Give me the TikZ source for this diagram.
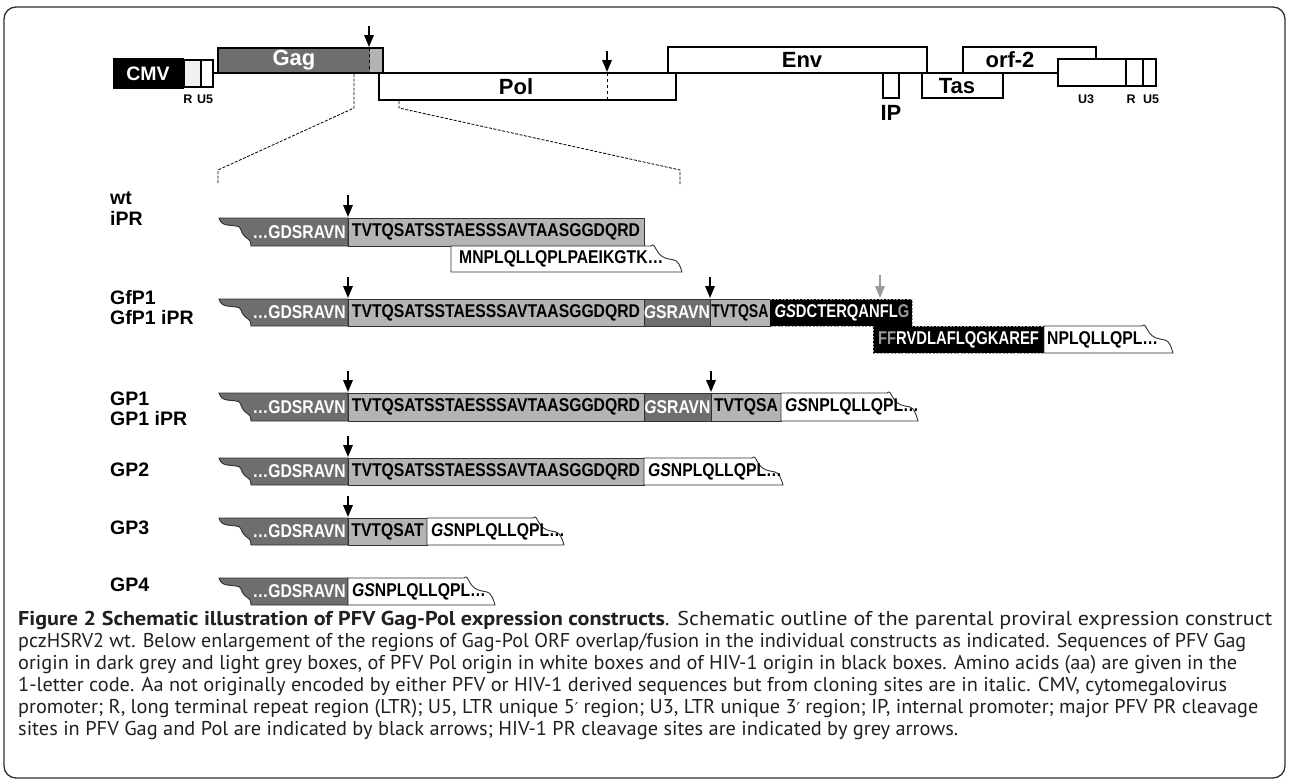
\documentclass[tikz,border=0pt]{standalone}
\usepackage{fontspec}
\usepackage{graphicx}
\setmainfont{Liberation Sans}
\newfontfamily\seqf{Liberation Sans}[FakeStretch=0.85]
\newfontfamily\seqg{Liberation Sans}[FakeStretch=0.80]
\newfontfamily\seqn{Liberation Sans}[FakeStretch=0.76]
\newfontfamily\capf{PT Sans}
\newfontfamily\dvf{DejaVu Sans}
\usetikzlibrary{arrows.meta}
\definecolor{dgrey}{HTML}{6E6E6E}
\definecolor{lgrey}{HTML}{B4B4B4}
\definecolor{hgrey}{HTML}{9A9A9A}
\definecolor{edge}{HTML}{303030}
\definecolor{rgrey}{HTML}{F0F0F0}
\definecolor{captxt}{HTML}{231F20}
\newcommand{\prm}{{\dvf\fontsize{15}{15}\selectfont ′}}
\newcommand{\capfit}[2]{\resizebox{#1pt}{\height}{#2}}
\tikzset{
  seq/.style={font=\seqf\bfseries\fontsize{18.5}{18.5}\selectfont, inner sep=0pt},
  seqg/.style={font=\seqg\bfseries\fontsize{18.5}{18.5}\selectfont, inner sep=0pt},
  seqn/.style={font=\seqn\bfseries\fontsize{18.5}{18.5}\selectfont, inner sep=0pt},
  rowlab/.style={font=\bfseries\fontsize{19.5}{20}\selectfont, anchor=west, inner sep=0pt},
  maplab/.style={font=\bfseries\fontsize{22}{22}\selectfont, inner sep=0pt},
  smalllab/.style={font=\bfseries\fontsize{12.5}{12.5}\selectfont, inner sep=0pt},
  cleave/.style={-{Triangle[width=9.5pt,length=12pt]}, line width=1.8pt},
  box/.style={draw=edge, line width=0.9pt},
  mapbox/.style={draw=black, line width=1.4pt},
  zoomline/.style={line width=0.8pt, dash pattern=on 3pt off 1.5pt},
  capline/.style={font=\capf\fontsize{20}{21}\selectfont, text=captxt, anchor=base west, inner sep=0pt}
}
% dark Gag bar with torn left edge: #1 top, #2 height
\newcommand{\gagbar}[2]{%
  \begin{scope}[shift={(219,#1)}]
  \draw[box, fill=dgrey] (0,0) -- (129,0) -- (129,#2) -- (32,#2)
    .. controls (31.5,#2-5) and (31,#2-6) .. (29,#2-7)
    .. controls (26,#2-9) and (23,#2-12) .. (22,#2-16)
    .. controls (21,9) and (20,8) .. (17,8) -- (8,7)
    .. controls (4,6.5) and (1,4) .. (0,0) -- cycle;
  \end{scope}}
% white Pol bar with torn right edge: #1 left x, #2 top, #3 width to torn start, #4 height
\newcommand{\polbar}[4]{%
  \begin{scope}[shift={(#1,#2)}]
  \draw[box, fill=white] (0,0) -- (#3,0)
    .. controls (#3+2,-2) and (#3+3,-1) .. (#3+5,3)
    .. controls (#3+8,9) and (#3+12,12) .. (#3+18,13) -- (#3+23,14)
    .. controls (#3+27,15) and (#3+29,#4-7) .. (#3+31,#4) -- (0,#4) -- cycle;
  \end{scope}}
\begin{document}
\begin{tikzpicture}[x=1pt,y=-1pt]
\useasboundingbox (0,0) rectangle (1290,782);
\draw[line width=1.3pt, draw=edge, rounded corners=12pt] (4,7) rectangle (1285,778);

% ---------------- genome map ----------------
\draw[line width=2.6pt] (213,73) -- (1058,73);
\fill[black] (113,58) rectangle (184,89);
\node[maplab, text=white, font=\bfseries\fontsize{19.5}{20}\selectfont] (cmv) at (148,73.5) {CMV};
\draw[mapbox, fill=rgrey] (184,60) rectangle (201,87);
\draw[mapbox, fill=white] (201,60) rectangle (213,87);
\node[smalllab] (r1) at (188,99) {R};
\node[smalllab] (u51) at (205,99) {U5};

\draw[mapbox, fill=dgrey] (218,48) rectangle (383,73);
\fill[lgrey] (369.5,48.7) rectangle (382.3,72);
\draw[dashed, line width=1pt] (369,48) -- (369,73);
\node[maplab, text=white] (gag) at (294,60.5) {Gag};
\coordinate (gagcut) at (369,47);
\coordinate (gagarr) at (369,26);
\draw[cleave] (gagarr) -- (gagcut);

\draw[mapbox, fill=white] (379,73) rectangle (676,100);
\node[maplab] (pol) at (516,86.5) {Pol};
\draw[dashed, line width=1pt] (607,73) -- (607,100);
\coordinate (polcut) at (607,72);
\coordinate (polarr) at (607,51);
\draw[cleave] (polarr) -- (polcut);

\draw[mapbox, fill=white] (668,47) rectangle (927,73);
\node[maplab] (env) at (802,60) {Env};
\draw[mapbox, fill=white] (883,73) rectangle (899,98);
\node[maplab] (ip) at (891,113) {IP};
\draw[mapbox, fill=white] (922,73) rectangle (1003,98);
\node[maplab] (tas) at (957,86) {Tas};
\draw[mapbox, fill=white] (963,47) rectangle (1096,73);
\node[maplab] (orf) at (1010,60) {orf-2};
\draw[mapbox, fill=white] (1058,59) rectangle (1126,86);
\draw[mapbox, fill=white] (1126,59) rectangle (1143,86);
\draw[mapbox, fill=white] (1143,59) rectangle (1156,86);
\node[smalllab] (u3) at (1086,99) {U3};
\node[smalllab] (r2) at (1131,99) {R};
\node[smalllab] (u52) at (1151,99) {U5};

% zoom lines
\draw[zoomline] (354,74) -- (354,108) -- (218,170) -- (218,184);
\draw[zoomline] (399,101) -- (399,108) -- (680,170) -- (680,184);

% ---------------- row labels ----------------
\node[rowlab] (lwt) at (110,198) {wt};
\node[rowlab] (lipr) at (110,218) {iPR};
\node[rowlab] (lgf) at (110,298) {GfP1};
\node[rowlab] (lgfi) at (110,318) {GfP1 iPR};
\node[rowlab] (lgp1) at (110,399) {GP1};
\node[rowlab] (lgp1i) at (110,419) {GP1 iPR};
\node[rowlab] (lgp2) at (110,470) {GP2};
\node[rowlab] (lgp3) at (110,528) {GP3};
\node[rowlab] (lgp4) at (110,585) {GP4};

% ---------------- wt / iPR ----------------
\gagbar{218}{28}
\draw[box, fill=lgrey] (348,218) rectangle (644,246);
\polbar{451}{246}{200}{26}
\node[seq, text=white, anchor=east] (wta) at (346,232) {…GDSRAVN};
\node[seq] (wtb) at (496,232) {TVTQSATSSTAESSSAVTAASGGDQRD};
\node[seq, anchor=west] (wtc) at (459,259) {MNPLQLLQPLPAEIKGTK…};
\coordinate (wtcut) at (348,217); \coordinate (wtarr) at (348,195);
\draw[cleave] (wtarr) -- (wtcut);

% ---------------- GfP1 ----------------
\gagbar{299}{27}
\draw[box, fill=lgrey] (348,299) rectangle (644,326);
\draw[box, fill=dgrey] (644,299) rectangle (710,326);
\draw[box, fill=lgrey] (710,299) rectangle (770,326);
\fill[black] (770,299) rectangle (912,326);
\fill[black] (873,326) rectangle (1044,353);
\draw[draw=hgrey, line width=0.8pt, dash pattern=on 2pt off 1.5pt]
  (770,299) -- (912,299) -- (912,326) -- (1044,326) -- (1044,353) -- (873,353) -- (873,326) -- (770,326);
\polbar{1044}{326}{98}{27}
\node[seq, text=white, anchor=east] (gfa) at (346,312.5) {…GDSRAVN};
\node[seq] (gfb) at (496,312.5) {TVTQSATSSTAESSSAVTAASGGDQRD};
\node[seq, text=white] (gfc) at (677,312.5) {\itshape G\upshape SRAVN};
\node[seqn] (gfd) at (740,312.5) {TVTQSA};
\node[seqg, text=white] (gfe) at (842,312.5) {\itshape GS\upshape DCTERQANFL\textcolor{hgrey}{G}};
\node[seqg, text=white] (gff) at (958.5,339.5) {\textcolor{hgrey}{FF}RVDLAFLQGKAREF};
\node[seq, anchor=west] (gfg) at (1047,339.5) {NPLQLLQPL…};
\coordinate (gfcut1) at (348,298); \coordinate (gfarr1) at (348,277);
\coordinate (gfcut2) at (710,298); \coordinate (gfarr2) at (710,277);
\coordinate (gfcut3) at (880,298); \coordinate (gfarr3) at (880,275);
\draw[cleave] (gfarr1) -- (gfcut1);
\draw[cleave] (gfarr2) -- (gfcut2);
\draw[cleave, draw=hgrey, fill=hgrey] (gfarr3) -- (gfcut3);

% ---------------- GP1 ----------------
\gagbar{393}{28}
\draw[box, fill=lgrey] (348,393) rectangle (644,421);
\draw[box, fill=dgrey] (644,393) rectangle (711,421);
\draw[box, fill=lgrey] (711,393) rectangle (781,421);
\polbar{781}{393}{106}{28}
\node[seq, text=white, anchor=east] (g1a) at (346,407) {…GDSRAVN};
\node[seq] (g1b) at (496,407) {TVTQSATSSTAESSSAVTAASGGDQRD};
\node[seq, text=white] (g1c) at (677.5,407) {\itshape G\upshape SRAVN};
\node[seq] (g1d) at (746,407) {TVTQSA};
\node[seq, anchor=west] (g1e) at (785,407) {\itshape GS\upshape NPLQLLQPL…};
\coordinate (g1cut1) at (348,392); \coordinate (g1arr1) at (348,371);
\coordinate (g1cut2) at (711,392); \coordinate (g1arr2) at (711,371);
\draw[cleave] (g1arr1) -- (g1cut1);
\draw[cleave] (g1arr2) -- (g1cut2);

% ---------------- GP2 ----------------
\gagbar{458}{27}
\draw[box, fill=lgrey] (348,458) rectangle (644,485);
\polbar{644}{458}{108}{27}
\node[seq, text=white, anchor=east] (g2a) at (346,471.5) {…GDSRAVN};
\node[seq] (g2b) at (496,471.5) {TVTQSATSSTAESSSAVTAASGGDQRD};
\node[seq, anchor=west] (g2c) at (648,471.5) {\itshape GS\upshape NPLQLLQPL…};
\coordinate (g2cut) at (348,457); \coordinate (g2arr) at (348,436);
\draw[cleave] (g2arr) -- (g2cut);

% ---------------- GP3 ----------------
\gagbar{518}{27}
\draw[box, fill=lgrey] (348,518) rectangle (427,545);
\polbar{427}{518}{106}{27}
\node[seq, text=white, anchor=east] (g3a) at (346,531.5) {…GDSRAVN};
\node[seq] (g3b) at (387.5,531.5) {TVTQSAT};
\node[seq, anchor=west] (g3c) at (431,531.5) {\itshape GS\upshape NPLQLLQPL…};
\coordinate (g3cut) at (348,517); \coordinate (g3arr) at (348,496);
\draw[cleave] (g3arr) -- (g3cut);

% ---------------- GP4 ----------------
\gagbar{578}{27}
\polbar{348}{578}{116}{27}
\node[seq, text=white, anchor=east] (g4a) at (346,591.5) {…GDSRAVN};
\node[seq, anchor=west] (g4b) at (352,591.5) {\itshape GS\upshape NPLQLLQPL…};

% ---------------- caption ----------------
\node[capline] (c1) at (18,625) {\capfit{1254}{\textbf{Figure 2 Schematic illustration of PFV Gag-Pol expression constructs}. Schematic outline of the parental proviral expression construct}};
\node[capline] (c2) at (18,647) {\capfit{1228}{pczHSRV2 wt. Below enlargement of the regions of Gag-Pol ORF overlap/fusion in the individual constructs as indicated. Sequences of PFV Gag}};
\node[capline] (c3) at (18,669) {\capfit{1219}{origin in dark grey and light grey boxes, of PFV Pol origin in white boxes and of HIV-1 origin in black boxes. Amino acids (aa) are given in the}};
\node[capline] (c4) at (18,691) {\capfit{1209}{1-letter code. Aa not originally encoded by either PFV or HIV-1 derived sequences but from cloning sites are in italic. CMV, cytomegalovirus}};
\node[capline] (c5) at (18,713) {\capfit{1240}{promoter; R, long terminal repeat region (LTR); U5, LTR unique 5\prm{} region; U3, LTR unique 3\prm{} region; IP, internal promoter; major PFV PR cleavage}};
\node[capline] (c6) at (18,735) {\capfit{940}{sites in PFV Gag and Pol are indicated by black arrows; HIV-1 PR cleavage sites are indicated by grey arrows.}};
\end{tikzpicture}
\end{document}
